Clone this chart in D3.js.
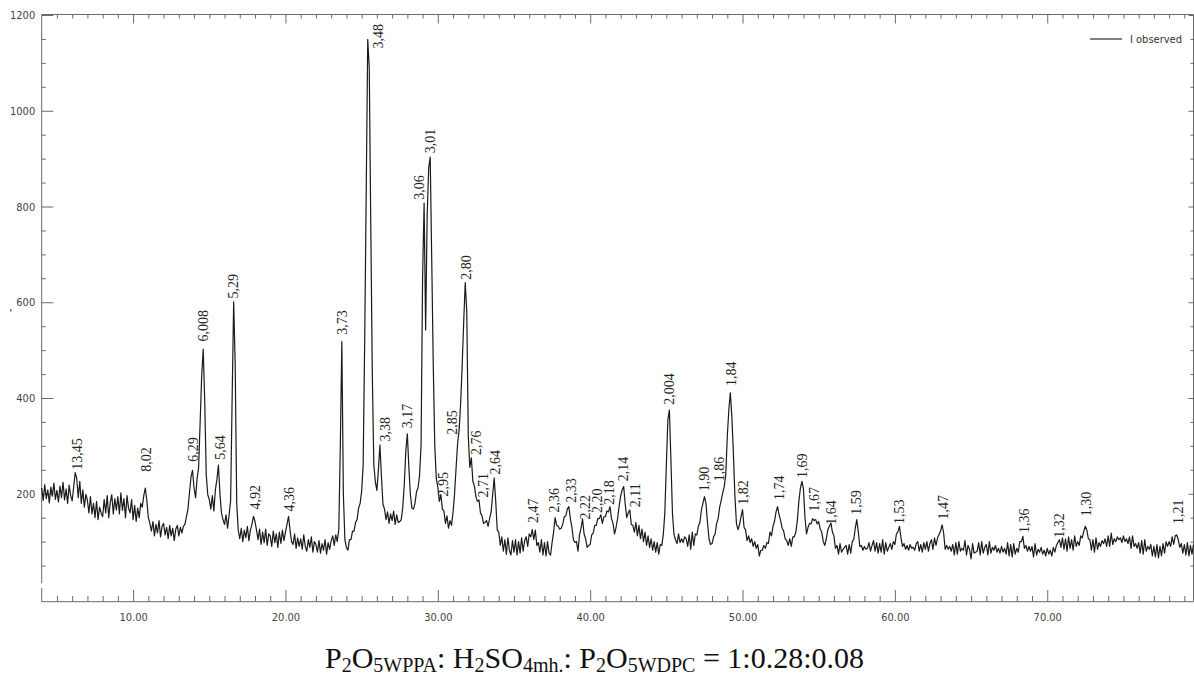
<!DOCTYPE html>
<html>
<head>
<meta charset="utf-8">
<script src="https://cdn.jsdelivr.net/npm/d3@7"></script>
<style>
  html, body { margin: 0; padding: 0; background: #fff; }
  svg { display: block; }
  .tick text { font-family: "DejaVu Sans Condensed", "DejaVu Sans", sans-serif; font-stretch: condensed; font-size: 11px; fill: #444; }
  .tick line { stroke: #6a6a6a; }
</style>
</head>
<body>
<svg id="chart" width="1194" height="677"></svg>
<script>
/* XRD scan: start angle and step (2θ, degrees), counts */
const scanStart = 4.0;
const scanStep = 0.1;
const counts = [
  212,186,219,190,208,181,214,195,222,188, // 4
  207,183,216,192,224,187,210,180,218,196, // 5
  185,214,244,232,192,226,180,208,172,199, // 6
  186,160,194,158,180,150,184,146,172,160, // 7
  152,188,160,196,150,182,198,158,190,166, // 8
  194,158,202,165,190,150,196,170,160,188, // 9
  146,176,142,170,150,180,172,196,212,186, // 10
  150,138,122,142,112,136,118,144,110,132, // 11
  138,114,130,106,134,112,128,102,126,134, // 12
  112,130,118,132,136,152,168,202,235,249, // 13
  212,192,232,255,350,445,502,395,240,198, // 14
  188,168,196,164,208,230,260,200,160,146, // 15
  136,156,128,156,185,400,601,470,180,124, // 16
  106,128,100,124,108,132,102,124,136,153, // 17
  142,124,104,126,94,120,98,126,92,116,    // 18
  112,90,122,98,116,88,120,96,124,102,     // 19
  120,136,153,124,100,94,116,86,108,90,    // 20
  106,84,114,90,80,104,88,110,78,100,      // 21
  94,78,102,76,96,82,104,74,98,84,         // 22
  102,112,92,114,100,125,300,518,200,104,  // 23
  88,82,104,104,122,122,140,146,170,180,   // 24
  205,260,520,830,1149,1090,760,450,260,225, // 25
  207,250,302,235,178,168,146,162,138,158, // 26
  144,164,136,156,140,142,146,172,220,290, // 27
  325,255,198,170,168,180,204,212,238,300, // 28
  650,807,542,780,880,903,690,470,300,232, // 29
  214,184,198,168,164,138,154,128,144,134, // 30
  162,200,255,305,334,390,470,560,641,580, // 31
  320,255,275,226,216,194,184,187,160,154, // 32
  138,140,144,132,148,162,198,233,185,124, // 33
  120,92,110,80,104,74,108,82,72,102,      // 34
  78,104,72,100,76,108,80,102,110,90,      // 35
  116,110,125,104,124,92,98,78,104,72,     // 36
  98,70,100,76,72,98,120,150,134,132,      // 37
  126,128,136,152,154,168,173,148,130,104, // 38
  98,100,80,114,128,147,116,106,88,92,     // 39
  94,114,118,134,134,148,148,156,138,152,  // 40
  152,164,162,173,148,138,116,130,148,174, // 41
  195,208,215,178,150,160,166,136,134,120, // 42
  140,112,134,106,126,100,120,92,112,88,   // 43
  106,82,100,78,98,74,94,92,115,160,       // 44
  260,355,375,270,160,115,104,96,116,98,   // 45
  106,98,110,106,90,114,84,120,92,116,     // 46
  114,132,140,166,180,194,180,140,106,94,  // 47
  96,110,116,138,148,172,186,202,215,240,  // 48
  320,375,411,360,285,195,138,125,135,152, // 49
  167,130,124,102,112,98,106,90,100,86,    // 50
  94,70,82,82,92,86,98,96,120,112,         // 51
  132,143,162,173,156,144,128,122,106,102, // 52
  92,106,90,110,110,120,145,185,212,226,   // 53
  210,150,116,130,138,137,148,144,146,137, // 54
  142,126,120,100,92,106,125,132,139,120,  // 55
  112,86,92,74,96,78,84,88,92,74,          // 56
  94,76,100,104,128,146,120,90,92,82,      // 57
  90,84,86,98,80,92,102,80,98,76,          // 58
  96,78,104,74,98,80,88,96,84,100,         // 59
  94,116,121,132,108,90,96,84,92,82,       // 60
  94,86,88,82,96,100,80,94,78,98,          // 61
  84,100,80,96,104,84,108,92,108,115,      // 62
  122,135,118,84,92,84,90,80,94,72,        // 63
  98,74,100,80,86,82,102,72,92,84,         // 64
  64,96,76,78,80,98,72,100,76,88,          // 65
  94,72,100,76,88,82,92,78,86,76,          // 66
  90,78,86,74,98,70,94,68,96,74,           // 67
  86,78,100,100,111,86,92,80,90,80,        // 68
  90,68,96,72,84,78,88,74,82,70,           // 69
  86,74,82,70,88,78,92,98,104,88,          // 70
  108,84,106,80,110,86,104,82,112,90,      // 71
  100,92,112,108,122,132,124,106,104,82,   // 72
  104,78,108,84,98,90,102,96,106,90,       // 73
  112,90,118,94,106,100,110,104,108,98,    // 74
  112,100,106,96,110,86,112,90,96,86,      // 75
  98,76,102,74,104,80,90,84,94,70,         // 76
  90,68,94,66,90,70,96,76,100,90,          // 77
  100,90,110,94,112,114,104,88,96,76,      // 78
  94,72,98,70,92,74,94                     // 79
];

/* d-spacing labels (Å), where they sit in 2θ and the count at their foot */
const peakLabels = ["13,45","8,02","6,29","6,008","5,64","5,29","4,92","4,36","3,73","3,48","3,38","3,17","3,06","3,01","2,95","2,85","2,80","2,76","2,71","2,64","2,47","2,36","2,33","2,22","2,20","2,18","2,14","2,11","2,004","1,90","1,86","1,84","1,82","1,74","1,69","1,67","1,64","1,59","1,53","1,47","1,36","1,32","1,30","1,21"];
const labelTheta = [6.30,10.85,13.96,14.62,15.71,16.59,18.01,20.26,23.70,26.11,26.55,28.01,28.80,29.46,30.33,30.93,31.85,32.52,33.00,33.77,36.24,37.64,38.74,39.68,40.45,41.27,42.15,42.92,45.19,47.49,48.43,49.24,50.03,52.37,53.91,54.67,55.83,57.47,60.30,63.14,68.46,70.80,72.55,78.57];
const labelCount = [250,246,267,518,271,608,167,163,532,1130,309,337,814,911,194,323,647,281,192,240,139,161,181,146,160,177,226,172,386,205,226,425,177,187,233,163,135,156,137,146,118,108,153,137];

const xMajor = [10, 20, 30, 40, 50, 60, 70];
const yMajor = [200, 400, 600, 800, 1000, 1200];
const seriesName = "I observed";

///////////////////////////////////////////////////////////////

const svg = d3.select("#chart");

const padL = 41.7, padR = 1193.5, padT = 14.5, padB = 601.7;

const x = d3.scaleLinear().domain([4, 79.6]).range([padL, padR]);
const y = d3.scaleLinear().domain([0, 1200]).range([589.5, 15]);

const xMinor = d3.range(5, 80).filter(v => v % 10 !== 0);
const yMinor = d3.range(50, 1201, 50).filter(v => v % 200 !== 0);

// frame lines
const frame = svg.append("g").attr("stroke", "#6a6a6a").attr("stroke-width", 1);
frame.append("line").attr("x1", padL).attr("x2", padL).attr("y1", padT).attr("y2", 583.3);
frame.append("line").attr("x1", padL).attr("x2", padL).attr("y1", 588).attr("y2", padB);
frame.append("line").attr("x1", padL).attr("x2", padR).attr("y1", padB).attr("y2", padB);
frame.append("line").attr("x1", padL).attr("x2", padR).attr("y1", padT).attr("y2", padT);
frame.append("line").attr("x1", padR).attr("x2", padR).attr("y1", padT).attr("y2", padB);

function clean(g) { g.select(".domain").remove(); }

// bottom axis
svg.append("g").attr("transform", `translate(0,${padB})`)
  .call(d3.axisBottom(x).tickValues(xMajor).tickSize(-11.7).tickPadding(12).tickFormat(d3.format(".2f")))
  .call(clean);
svg.append("g").attr("transform", `translate(0,${padB})`)
  .call(d3.axisBottom(x).tickValues(xMinor).tickSize(-5.7).tickFormat(""))
  .call(clean);

// top axis
svg.append("g").attr("transform", `translate(0,${padT})`)
  .call(d3.axisTop(x).tickValues(xMajor).tickSize(-9).tickFormat(""))
  .call(clean);
svg.append("g").attr("transform", `translate(0,${padT})`)
  .call(d3.axisTop(x).tickValues(xMinor).tickSize(-4).tickFormat(""))
  .call(clean);

// left axis
svg.append("g").attr("transform", `translate(${padL},0)`)
  .call(d3.axisLeft(y).tickValues(yMajor).tickSize(-11.7).tickPadding(6.5).tickFormat(d3.format("d")))
  .call(clean);
svg.append("g").attr("transform", `translate(${padL},0)`)
  .call(d3.axisLeft(y).tickValues(yMinor).tickSize(-4).tickFormat(""))
  .call(clean);

// right axis
svg.append("g").attr("transform", `translate(${padR},0)`)
  .call(d3.axisRight(y).tickValues(yMajor).tickSize(-5).tickFormat(""))
  .call(clean);
svg.append("g").attr("transform", `translate(${padR},0)`)
  .call(d3.axisRight(y).tickValues(yMinor).tickSize(-3).tickFormat(""))
  .call(clean);

// stray axis title mark
svg.append("rect").attr("x", 10).attr("y", 309).attr("width", 1.6).attr("height", 2.4).attr("fill", "#777");

// pattern
const pts = counts.map((c, i) => [scanStart + i * scanStep, c]);
const line = d3.line().x(d => x(d[0])).y(d => y(d[1]));
svg.append("path")
  .datum(pts)
  .attr("d", line)
  .attr("fill", "none")
  .attr("stroke", "#1a1a1a")
  .attr("stroke-width", 1.2)
  .attr("stroke-linejoin", "round");

// d-spacing labels
svg.append("g")
  .selectAll("text")
  .data(peakLabels)
  .join("text")
  .attr("transform", (d, i) => `translate(${x(labelTheta[i])},${y(labelCount[i])}) rotate(-90)`)
  .attr("dy", "0.35em")
  .attr("font-family", "'Liberation Serif', 'Times New Roman', serif")
  .attr("font-size", 14)
  .attr("fill", "#222")
  .text(d => d);

// legend
svg.append("line").attr("x1", 1090).attr("x2", 1122).attr("y1", 39).attr("y2", 39)
  .attr("stroke", "#555").attr("stroke-width", 1.5);
svg.append("text").attr("x", 1130).attr("y", 39).attr("dy", "0.35em")
  .attr("font-family", "'DejaVu Sans Condensed', 'DejaVu Sans', sans-serif")
  .style("font-stretch", "condensed")
  .attr("font-size", 11).attr("fill", "#333")
  .text(seriesName);

// caption with subscripts
const caption = [
  ["P", 0], ["2", 1], ["O", 0], ["5WPPA", 1], [": H", 0], ["2", 1], ["SO", 0], ["4mh.", 1],
  [": P", 0], ["2", 1], ["O", 0], ["5WDPC", 1], [" = 1:0.28:0.08", 0]
];
const cap = svg.append("text")
  .attr("x", 594.5).attr("y", 668)
  .attr("text-anchor", "middle")
  .attr("font-family", "'Liberation Serif', 'Times New Roman', serif")
  .attr("font-size", 30)
  .attr("fill", "#111");
let shifted = 0;
caption.forEach(([t, sub]) => {
  const dy = sub ? 4 - shifted : -shifted;
  shifted = sub ? 4 : 0;
  cap.append("tspan").attr("dy", dy).attr("font-size", sub ? 20 : 30).text(t);
});
</script>
</body>
</html>
